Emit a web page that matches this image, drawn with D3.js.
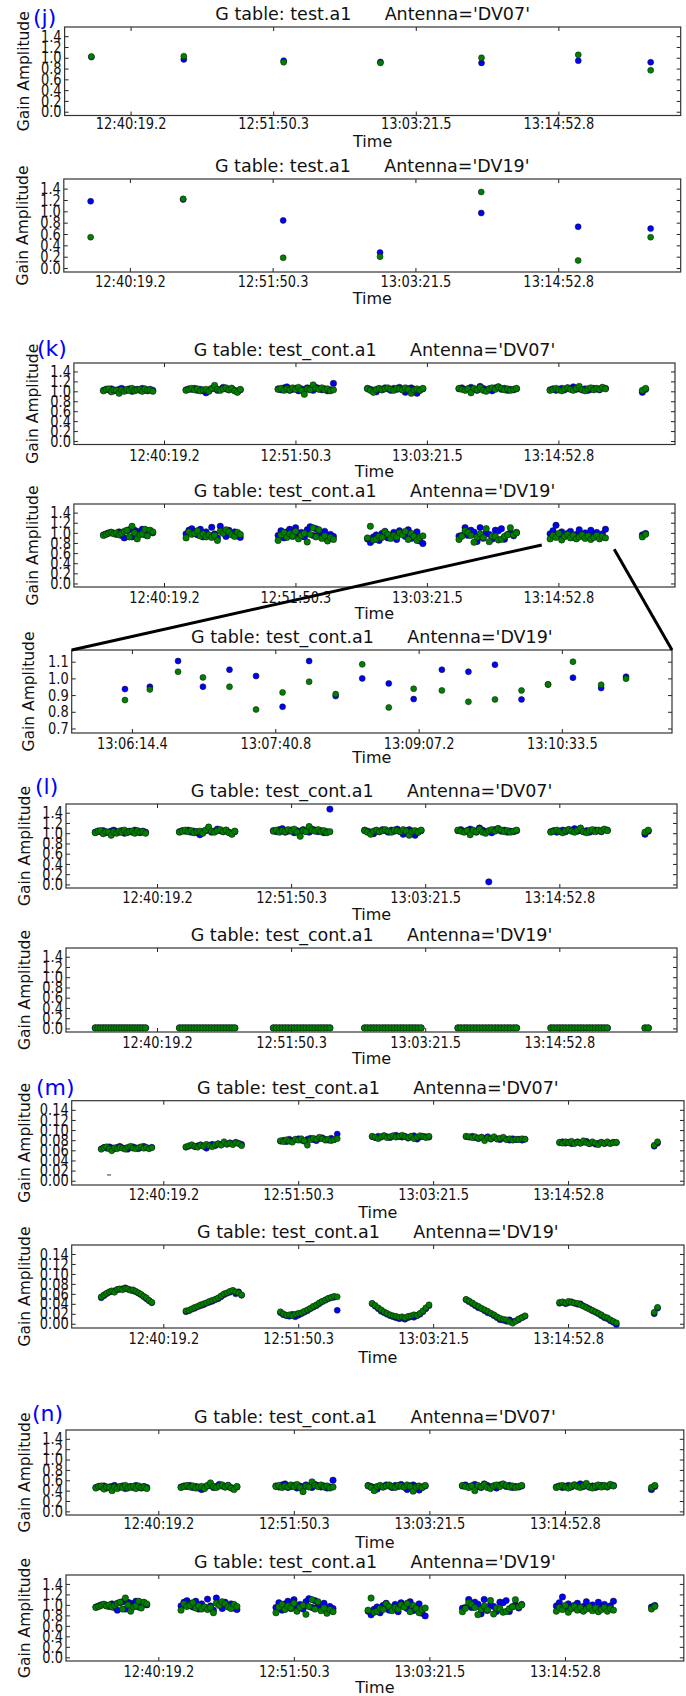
<!DOCTYPE html>
<html>
<head>
<meta charset="utf-8">
<script src="https://cdn.jsdelivr.net/npm/d3@7"></script>
<style>
  html, body { margin: 0; padding: 0; background: #fff; }
  text { font-family: "DejaVu Sans", sans-serif; }
</style>
</head>
<body>
<script>
// ---------------- DATA ----------------
// time axis (seconds relative to 12:40:19.2)
const tickTimes = [0, 691.1, 1382.3, 2073.6];
const tickLabels = ["12:40:19.2", "12:51:50.3", "13:03:21.5", "13:14:52.8"];
const zoomTickTimes = [1555.2, 1641.6, 1728.0, 1814.3];
const zoomTickLabels = ["13:06:14.4", "13:07:40.8", "13:09:07.2", "13:10:33.5"];
const ampTicks = [0.0, 0.2, 0.4, 0.6, 0.8, 1.0, 1.2, 1.4];
const ampTicksSmall = [0.00, 0.02, 0.04, 0.06, 0.08, 0.10, 0.12, 0.14];
const ampTicksZoom = [0.7, 0.8, 0.9, 1.0, 1.1];

// (j) one solution per scan
const jTimes = [-190, 258, 742, 1211, 1701, 2170, 2521];
const j1Blue = [1.012, 0.97, 0.946, 0.923, 0.905, 0.946, 0.917];
const j1Green = [1.024, 1.03, 0.917, 0.905, 1.0, 1.054, 0.768];
const j2Blue = [1.178, 1.208, 0.84, 0.272, 0.97, 0.728, 0.695];
const j2Green = [0.544, 1.22, 0.181, 0.2, 1.34, 0.133, 0.544];

// integration times for the per-integration solutions
const scanTimes = [
-318,-304,-291,-277,-264,-250,-236,-223,-209,-195,-182,-168,-155,-141,-127,-114,-100,-87,-73,-59,
116,131,146,161,176,191,206,221,236,251,266,281,296,311,326,341,356,371,386,401,
600,615,631,646,661,676,692,707,722,738,753,768,784,799,814,830,845,860,875,891,
1070,1085,1101,1116,1131,1146,1162,1177,1192,1208,1223,1238,1254,1269,1284,1300,1315,1330,1345,1361,
1551,1566,1583,1598,1614,1630,1646,1662,1678,1694,1710,1725,1742,1758,1774,1790,1806,1821,1838,1853,
2030,2045,2061,2076,2091,2106,2122,2137,2152,2168,2183,2198,2214,2229,2244,2260,2275,2290,2305,2321,
2515,2532];

// (k) DV07
const k1Blue = [
1.02,1.04,1.03,1.05,1.01,1.02,1.04,1.06,1.03,1.02,1.05,1.00,1.03,1.04,1.02,1.06,1.03,1.01,1.04,1.02,
1.03,1.05,1.04,1.06,1.02,1.04,1.01,0.97,1.03,1.05,1.07,1.02,1.04,1.08,1.05,1.03,1.06,1.02,0.99,1.03,
1.05,1.03,1.07,1.09,1.02,1.04,1.06,1.01,1.05,1.03,1.07,1.04,1.02,1.08,1.06,1.03,1.05,1.01,1.03,1.16,
1.06,1.04,1.02,0.99,1.05,1.03,1.07,1.05,1.02,1.06,1.04,1.08,1.03,0.98,1.05,1.07,1.04,0.96,1.02,1.05,
1.05,1.07,1.03,1.05,1.08,1.04,1.02,1.10,1.06,1.03,1.05,1.01,1.07,1.09,1.04,1.06,1.02,1.04,1.03,1.05,
1.03,1.05,1.02,1.04,1.06,1.03,1.07,1.05,1.09,1.04,1.06,1.03,1.05,1.02,1.04,1.06,1.05,1.03,1.07,1.06,
0.98,1.04];
const k1Green = [
1.01,1.04,1.05,0.99,1.03,1.02,0.96,1.03,1.00,1.04,1.02,1.06,1.01,1.03,1.04,1.00,1.05,1.02,1.03,1.00,
1.02,1.04,1.06,1.03,1.05,1.01,1.03,1.04,1.00,1.06,1.12,1.04,1.02,1.05,1.07,1.03,1.06,1.01,0.98,1.04,
1.04,1.06,1.02,1.05,1.03,1.07,1.04,1.08,1.02,0.94,1.05,1.03,1.13,1.06,1.04,1.07,1.03,1.05,1.01,1.03,
1.05,1.02,0.98,1.04,1.06,1.03,1.05,1.07,1.04,1.02,1.06,1.05,1.03,1.07,1.04,0.96,1.03,1.05,1.02,1.06,
1.06,1.04,1.02,1.05,0.97,1.06,1.03,1.08,1.02,1.00,1.05,1.07,1.04,1.09,1.06,1.03,1.05,1.02,1.04,1.06,
1.02,1.04,1.06,1.03,1.01,1.05,1.07,1.04,1.02,1.06,1.10,1.03,1.01,1.05,1.07,1.03,1.06,1.04,1.08,1.05,
1.02,1.06];

// (k) DV19
const k2Blue = [
0.96,0.98,1.00,1.01,0.99,0.97,1.02,0.95,0.90,1.04,1.06,0.92,1.05,1.03,0.99,1.07,0.96,1.04,1.02,1.00,
0.98,1.05,1.08,1.03,0.96,1.07,0.92,1.02,0.95,1.11,0.98,0.90,1.13,1.01,0.93,1.05,0.97,1.02,0.94,0.91,
0.95,1.04,0.90,1.02,1.07,0.93,1.10,0.97,1.01,0.92,1.06,1.12,0.95,1.08,0.99,0.91,1.03,0.86,0.97,0.93,
0.88,0.81,0.92,0.96,0.85,0.99,1.03,0.90,0.94,1.01,0.87,1.04,0.98,0.93,1.06,0.89,0.97,1.02,0.84,0.79,
0.936,0.95,1.104,0.95,1.052,1.014,0.83,1.104,0.894,1.0,0.97,0.876,1.052,1.04,1.082,0.874,0.964,1.004,0.942,1.01,
0.98,1.04,1.15,0.95,1.02,0.93,0.99,1.03,0.91,0.97,1.06,0.94,1.00,0.92,1.05,0.96,1.01,0.93,0.98,1.07,
0.96,0.99];
const k2Green = [
0.95,0.97,0.99,1.01,0.98,1.00,0.96,0.99,1.03,1.05,0.92,1.13,1.00,0.88,0.96,0.98,1.07,0.94,1.05,1.02,
0.90,1.02,0.97,0.99,1.04,0.94,0.98,0.92,0.96,0.91,0.95,0.85,1.03,0.99,1.06,1.02,0.96,0.93,1.01,0.97,
0.85,0.96,1.01,0.91,0.98,0.94,1.03,0.88,0.95,0.99,0.82,0.97,1.10,0.92,1.06,0.89,0.94,0.84,0.91,0.87,
0.90,1.13,0.86,0.88,0.93,0.91,1.02,0.97,0.89,0.95,0.92,1.00,0.96,1.03,0.87,0.99,0.93,0.85,0.91,0.94,
0.87,0.934,1.04,1.006,0.95,0.814,0.916,0.98,0.906,1.084,0.826,0.938,0.928,0.86,0.874,0.928,0.964,1.1,0.962,0.998,
0.88,0.95,0.91,0.99,0.86,0.93,0.97,0.90,0.95,0.88,0.92,0.96,0.89,0.94,0.87,0.91,0.95,0.88,0.93,0.90,
0.92,0.97];

// zoomed-in DV19 scan
const zoomTimes = [1551,1566,1583,1598,1614,1630,1646,1662,1678,1694,1710,1725,1742,1758,1774,1790,1806,1821,1838,1853];
const zoomBlue = [0.936,0.95,1.104,0.95,1.052,1.014,0.83,1.104,0.894,1.0,0.97,0.876,1.052,1.04,1.082,0.874,0.964,1.004,0.942,1.01];
const zoomGreen = [0.87,0.934,1.04,1.006,0.95,0.814,0.916,0.98,0.906,1.084,0.826,0.938,0.928,0.86,0.874,0.928,0.964,1.1,0.962,0.998];

// (l) DV07
const l1Blue = [
1.02,1.04,1.03,1.05,1.01,1.02,1.04,1.06,1.03,1.02,1.05,1.00,1.03,1.04,1.02,1.06,1.03,1.01,1.04,1.02,
1.03,1.05,1.04,1.06,1.02,1.04,1.01,0.97,1.03,1.05,1.07,1.02,1.04,1.08,1.05,1.03,1.06,1.02,0.99,1.03,
1.05,1.03,1.07,1.09,1.02,1.04,1.06,1.01,1.05,1.03,1.07,1.04,1.02,1.08,1.06,1.03,1.05,1.01,1.03,1.47,
1.06,1.04,1.02,0.99,1.05,1.03,1.07,1.05,1.02,1.06,1.04,1.08,1.03,0.98,1.05,1.07,1.04,0.96,1.02,1.05,
1.05,1.07,1.03,1.05,1.08,1.04,1.02,1.10,1.06,1.03,0.05,1.01,1.07,1.09,1.04,1.06,1.02,1.04,1.03,1.05,
1.03,1.05,1.02,1.04,1.06,1.03,1.07,1.05,1.09,1.04,1.06,1.03,1.05,1.02,1.04,1.06,1.05,1.03,1.07,1.06,
0.98,1.04];
const l1Green = [
1.01,1.04,1.05,0.99,1.03,1.02,0.96,1.03,1.00,1.04,1.02,1.06,1.01,1.03,1.04,1.00,1.05,1.02,1.03,1.00,
1.02,1.04,1.06,1.03,1.05,1.01,1.03,1.04,1.00,1.06,1.12,1.04,1.02,1.05,1.07,1.03,1.06,1.01,0.98,1.04,
1.04,1.06,1.02,1.05,1.03,1.07,1.04,1.08,1.02,0.94,1.05,1.03,1.13,1.06,1.04,1.07,1.03,1.05,1.01,1.03,
1.05,1.02,0.98,1.04,1.06,1.03,1.05,1.07,1.04,1.02,1.06,1.05,1.03,1.07,1.04,0.96,1.03,1.05,1.02,1.06,
1.06,1.04,1.02,1.05,0.97,1.06,1.03,1.08,1.02,1.00,1.05,1.07,1.04,1.09,1.06,1.03,1.05,1.02,1.04,1.06,
1.02,1.04,1.06,1.03,1.01,1.05,1.07,1.04,1.02,1.06,1.10,1.03,1.01,1.05,1.07,1.03,1.06,1.04,1.08,1.05,
1.02,1.06];

// (l) DV19 (all flagged / zero)
const l2Blue = [
0.01,0.01,0.01,0.01,0.01,0.01,0.01,0.01,0.01,0.01,0.01,0.01,0.01,0.01,0.01,0.01,0.01,0.01,0.01,0.01,
0.01,0.01,0.01,0.01,0.01,0.01,0.01,0.01,0.01,0.01,0.01,0.01,0.01,0.01,0.01,0.01,0.01,0.01,0.01,0.01,
0.01,0.01,0.01,0.01,0.01,0.01,0.01,0.01,0.01,0.01,0.01,0.01,0.01,0.01,0.01,0.01,0.01,0.01,0.01,0.01,
0.01,0.01,0.01,0.01,0.01,0.01,0.01,0.01,0.01,0.01,0.01,0.01,0.01,0.01,0.01,0.01,0.01,0.01,0.01,0.01,
0.01,0.01,0.01,0.01,0.01,0.01,0.01,0.01,0.01,0.01,0.01,0.01,0.01,0.01,0.01,0.01,0.01,0.01,0.01,0.01,
0.01,0.01,0.01,0.01,0.01,0.01,0.01,0.01,0.01,0.01,0.01,0.01,0.01,0.01,0.01,0.01,0.01,0.01,0.01,0.01,
0.01,0.01];
const l2Green = [
0.01,0.01,0.01,0.01,0.01,0.01,0.01,0.01,0.01,0.01,0.01,0.01,0.01,0.01,0.01,0.01,0.01,0.01,0.01,0.01,
0.01,0.01,0.01,0.01,0.01,0.01,0.01,0.01,0.01,0.01,0.01,0.01,0.01,0.01,0.01,0.01,0.01,0.01,0.01,0.01,
0.01,0.01,0.01,0.01,0.01,0.01,0.01,0.01,0.01,0.01,0.01,0.01,0.01,0.01,0.01,0.01,0.01,0.01,0.01,0.01,
0.01,0.01,0.01,0.01,0.01,0.01,0.01,0.01,0.01,0.01,0.01,0.01,0.01,0.01,0.01,0.01,0.01,0.01,0.01,0.01,
0.01,0.01,0.01,0.01,0.01,0.01,0.01,0.01,0.01,0.01,0.01,0.01,0.01,0.01,0.01,0.01,0.01,0.01,0.01,0.01,
0.01,0.01,0.01,0.01,0.01,0.01,0.01,0.01,0.01,0.01,0.01,0.01,0.01,0.01,0.01,0.01,0.01,0.01,0.01,0.01,
0.01,0.01];

// (m) DV07
const m1Blue = [
0.063,0.066,0.064,0.067,0.065,0.063,0.066,0.068,0.065,0.064,0.062,0.066,0.067,0.065,0.063,0.066,0.068,0.065,0.064,0.066,
0.066,0.068,0.070,0.067,0.069,0.071,0.068,0.064,0.070,0.072,0.069,0.073,0.071,0.074,0.072,0.075,0.073,0.076,0.074,0.072,
0.078,0.080,0.077,0.082,0.079,0.081,0.083,0.080,0.078,0.082,0.084,0.081,0.079,0.083,0.085,0.082,0.080,0.084,0.081,0.092,
0.087,0.085,0.088,0.086,0.089,0.087,0.085,0.088,0.090,0.087,0.086,0.088,0.084,0.087,0.089,0.082,0.086,0.088,0.087,0.086,
0.087,0.086,0.088,0.085,0.083,0.086,0.084,0.087,0.082,0.085,0.083,0.081,0.084,0.082,0.080,0.083,0.081,0.082,0.080,0.082,
0.075,0.077,0.074,0.076,0.073,0.075,0.077,0.074,0.076,0.078,0.073,0.075,0.072,0.074,0.076,0.073,0.075,0.074,0.076,0.075,
0.068,0.074];
const m1Green = [
0.062,0.065,0.067,0.063,0.059,0.065,0.063,0.066,0.064,0.062,0.066,0.068,0.064,0.063,0.065,0.067,0.064,0.066,0.063,0.065,
0.067,0.069,0.071,0.068,0.066,0.070,0.068,0.072,0.069,0.067,0.071,0.073,0.070,0.077,0.072,0.074,0.071,0.075,0.073,0.069,
0.079,0.077,0.081,0.078,0.076,0.082,0.080,0.083,0.079,0.070,0.081,0.084,0.082,0.086,0.083,0.080,0.082,0.079,0.081,0.083,
0.088,0.086,0.083,0.087,0.089,0.085,0.087,0.089,0.086,0.088,0.090,0.087,0.085,0.088,0.083,0.086,0.089,0.087,0.085,0.088,
0.088,0.087,0.085,0.087,0.084,0.086,0.079,0.085,0.083,0.087,0.082,0.084,0.086,0.081,0.083,0.080,0.082,0.081,0.083,0.082,
0.076,0.074,0.077,0.075,0.078,0.073,0.076,0.074,0.079,0.075,0.073,0.077,0.074,0.071,0.076,0.074,0.077,0.073,0.075,0.076,
0.070,0.077];
// stray dash-like mark in (m) DV07 (time, amplitude)
const m1Stray = [[-278, 0.0113]];

// (m) DV19
const m2Blue = [
0.052,0.056,0.060,0.063,0.065,0.066,0.068,0.069,0.070,0.072,0.069,0.068,0.066,0.064,0.061,0.058,0.054,0.050,0.046,0.042,
0.024,0.026,0.029,0.031,0.034,0.036,0.038,0.041,0.043,0.045,0.048,0.050,0.054,0.058,0.061,0.063,0.066,0.060,0.064,0.057,
0.022,0.018,0.016,0.015,0.019,0.014,0.017,0.020,0.023,0.026,0.030,0.033,0.036,0.040,0.044,0.047,0.050,0.052,0.053,0.027,
0.040,0.035,0.030,0.025,0.022,0.019,0.016,0.014,0.012,0.010,0.011,0.009,0.012,0.014,0.013,0.016,0.019,0.024,0.030,0.036,
0.048,0.044,0.040,0.036,0.032,0.030,0.026,0.022,0.020,0.016,0.012,0.008,0.007,0.005,0.008,0.004,0.006,0.008,0.012,0.015,
0.041,0.043,0.040,0.042,0.044,0.041,0.039,0.040,0.036,0.033,0.030,0.026,0.023,0.020,0.016,0.012,0.010,0.006,0.003,-0.002,
0.020,0.031];
const m2Green = [
0.054,0.058,0.061,0.064,0.066,0.063,0.069,0.070,0.068,0.071,0.070,0.067,0.068,0.065,0.062,0.059,0.055,0.052,0.047,0.043,
0.026,0.027,0.030,0.033,0.035,0.038,0.040,0.042,0.045,0.047,0.049,0.052,0.056,0.060,0.062,0.065,0.067,0.064,0.062,0.058,
0.024,0.020,0.017,0.018,0.016,0.019,0.021,0.022,0.025,0.028,0.031,0.035,0.038,0.042,0.045,0.048,0.051,0.053,0.055,0.054,
0.041,0.037,0.032,0.028,0.024,0.021,0.018,0.016,0.015,0.013,0.014,0.012,0.015,0.016,0.018,0.017,0.021,0.026,0.032,0.038,
0.049,0.046,0.042,0.038,0.035,0.031,0.028,0.025,0.021,0.018,0.014,0.011,0.009,0.008,0.004,0.001,0.005,0.010,0.013,0.016,
0.043,0.044,0.042,0.045,0.043,0.042,0.041,0.038,0.035,0.032,0.029,0.027,0.024,0.021,0.018,0.014,0.012,0.008,0.005,0.002,
0.023,0.033];

// (n) DV07
const n1Blue = [
0.46,0.48,0.47,0.49,0.45,0.47,0.48,0.50,0.46,0.47,0.49,0.44,0.47,0.48,0.46,0.50,0.47,0.45,0.48,0.46,
0.47,0.49,0.48,0.50,0.46,0.48,0.45,0.42,0.47,0.49,0.51,0.46,0.48,0.52,0.49,0.47,0.50,0.46,0.44,0.47,
0.49,0.47,0.51,0.53,0.46,0.48,0.50,0.45,0.49,0.47,0.51,0.48,0.46,0.52,0.50,0.47,0.49,0.45,0.47,0.60,
0.50,0.48,0.46,0.43,0.49,0.47,0.51,0.49,0.46,0.50,0.48,0.52,0.47,0.42,0.49,0.51,0.48,0.41,0.46,0.49,
0.49,0.51,0.47,0.49,0.52,0.48,0.46,0.53,0.50,0.47,0.49,0.45,0.51,0.52,0.48,0.50,0.46,0.48,0.47,0.49,
0.47,0.49,0.46,0.48,0.50,0.47,0.51,0.49,0.53,0.48,0.50,0.47,0.49,0.46,0.48,0.50,0.49,0.47,0.51,0.50,
0.42,0.48];
const n1Green = [
0.45,0.48,0.49,0.43,0.47,0.46,0.40,0.47,0.44,0.48,0.46,0.50,0.45,0.47,0.48,0.44,0.49,0.46,0.47,0.44,
0.46,0.48,0.50,0.47,0.49,0.45,0.47,0.48,0.44,0.50,0.55,0.48,0.46,0.49,0.51,0.47,0.50,0.45,0.42,0.48,
0.48,0.50,0.46,0.49,0.47,0.51,0.48,0.52,0.46,0.38,0.49,0.47,0.57,0.50,0.48,0.51,0.47,0.49,0.45,0.47,
0.49,0.46,0.40,0.48,0.50,0.47,0.49,0.51,0.48,0.46,0.50,0.49,0.47,0.51,0.48,0.39,0.47,0.49,0.46,0.50,
0.50,0.48,0.46,0.49,0.40,0.50,0.47,0.52,0.46,0.44,0.49,0.51,0.48,0.53,0.50,0.47,0.49,0.46,0.48,0.50,
0.46,0.48,0.50,0.47,0.45,0.49,0.51,0.48,0.46,0.50,0.54,0.47,0.45,0.49,0.51,0.47,0.50,0.48,0.52,0.49,
0.46,0.50];

// (n) DV19
const n2Blue = [
0.96,0.98,1.00,1.01,0.99,0.97,1.02,0.95,0.90,1.04,1.06,0.92,1.05,1.03,0.99,1.07,0.96,1.04,1.02,1.00,
0.98,1.05,1.08,1.03,0.96,1.07,0.92,1.02,0.95,1.11,0.98,0.90,1.13,1.01,0.93,1.05,0.97,1.02,0.94,0.91,
0.95,1.04,0.90,1.02,1.07,0.93,1.10,0.97,1.01,0.92,1.06,1.12,0.95,1.08,0.99,0.91,1.03,0.86,0.97,0.93,
0.88,0.81,0.92,0.96,0.85,0.99,1.03,0.90,0.94,1.01,0.87,1.04,0.98,0.93,1.06,0.89,0.97,1.02,0.84,0.79,
0.936,0.95,1.104,0.95,1.052,1.014,0.83,1.104,0.894,1.0,0.97,0.876,1.052,1.04,1.082,0.874,0.964,1.004,0.942,1.01,
0.98,1.04,1.15,0.95,1.02,0.93,0.99,1.03,0.91,0.97,1.06,0.94,1.00,0.92,1.05,0.96,1.01,0.93,0.98,1.07,
0.96,0.99];
const n2Green = [
0.95,0.97,0.99,1.01,0.98,1.00,0.96,0.99,1.03,1.05,0.92,1.13,1.00,0.88,0.96,0.98,1.07,0.94,1.05,1.02,
0.90,1.02,0.97,0.99,1.04,0.94,0.98,0.92,0.96,0.91,0.95,0.85,1.03,0.99,1.06,1.02,0.96,0.93,1.01,0.97,
0.85,0.96,1.01,0.91,0.98,0.94,1.03,0.88,0.95,0.99,0.82,0.97,1.10,0.92,1.06,0.89,0.94,0.84,0.91,0.87,
0.90,1.13,0.86,0.88,0.93,0.91,1.02,0.97,0.89,0.95,0.92,1.00,0.96,1.03,0.87,0.99,0.93,0.85,0.91,0.94,
0.87,0.934,1.04,1.006,0.95,0.814,0.916,0.98,0.906,1.084,0.826,0.938,0.928,0.86,0.874,0.928,0.964,1.1,0.962,0.998,
0.88,0.95,0.91,0.99,0.86,0.93,0.97,0.90,0.95,0.88,0.92,0.96,0.89,0.94,0.87,0.91,0.95,0.88,0.93,0.90,
0.92,0.97];

// connector anchor points in the (k) DV19 panel (time, amplitude)
const connectFrom = [[1986, 0.76], [2367, 0.675]];

const titleA = "G table: test.a1      Antenna=";
const titleB = "G table: test_cont.a1      Antenna=";

// ---------------- LAYOUT ----------------
const W = 686, H = 1696;
const STRETCH = 1.2; // tick labels are taller than wide in the reference
const svg = d3.select("body").append("svg").attr("width", W).attr("height", H);
svg.append("rect").attr("width", W).attr("height", H).attr("fill", "#fff");

const fmt1 = d3.format(".1f"), fmt2 = d3.format(".2f");
const mainDom = [-0.07, 1.57];
const smallDom = [-0.0085, 0.158];

const panels = [
  {id:"j1", box:[64.6,27,680.7,115.5], xdom:[-319.9,2666.5], ydom:mainDom, yt:ampTicks, yf:fmt1, title:titleA+"'DV07'", tl:124, tm:141, t:jTimes, b:j1Blue, g:j1Green, r:3, lab:"(j)", lx:33, ly:25, yoff:42},
  {id:"j2", box:[63.8,179,680.7,272], xdom:[-319.9,2666.5], ydom:mainDom, yt:ampTicks, yf:fmt1, title:titleA+"'DV19'", tl:282, tm:298, t:jTimes, b:j2Blue, g:j2Green, r:3, yoff:42},
  {id:"k1", box:[73.9,363,675,444.5], xdom:[-473.7,2686.6], ydom:mainDom, yt:ampTicks, yf:fmt1, title:titleB+"'DV07'", tl:456, tm:471, t:scanTimes, b:k1Blue, g:k1Green, r:3.2, lab:"(k)", lx:37, ly:356, yoff:42},
  {id:"k2", box:[73.9,504,675,587], xdom:[-473.7,2686.6], ydom:mainDom, yt:ampTicks, yf:fmt1, title:titleB+"'DV19'", tl:598, tm:613, t:scanTimes, b:k2Blue, g:k2Green, r:3.2, yoff:42},
  {id:"zp", box:[71.7,650,672,733], xdom:[1518.9,1880.7], ydom:[0.673,1.17], yt:ampTicksZoom, yf:fmt1, title:titleB+"'DV19'", tl:744, tm:757, t:zoomTimes, b:zoomBlue, g:zoomGreen, r:3, yoff:44, xt:zoomTickTimes, xl:zoomTickLabels},
  {id:"l1", box:[66,804,677,888], xdom:[-469,2680], ydom:mainDom, yt:ampTicks, yf:fmt1, title:titleB+"'DV07'", tl:898, tm:914, t:scanTimes, b:l1Blue, g:l1Green, r:3.2, lab:"(l)", lx:35, ly:794, yoff:42},
  {id:"l2", box:[66,948,677,1032], xdom:[-469,2680], ydom:mainDom, yt:ampTicks, yf:fmt1, title:titleB+"'DV19'", tl:1043, tm:1058, t:scanTimes, b:l2Blue, g:l2Green, r:3.2, yoff:42},
  {id:"m1", box:[71.7,1100.7,684,1185], xdom:[-469.3,2667.5], ydom:smallDom, yt:ampTicksSmall, yf:fmt2, title:titleB+"'DV07'", tl:1195, tm:1212, t:scanTimes, b:m1Blue, g:m1Green, r:3, lab:"(m)", lx:36, ly:1095, yoff:48, stray:m1Stray},
  {id:"m2", box:[71.7,1245,684,1328], xdom:[-469.3,2667.5], ydom:smallDom, yt:ampTicksSmall, yf:fmt2, title:titleB+"'DV19'", tl:1339, tm:1357, t:scanTimes, b:m2Blue, g:m2Green, r:3, yoff:48},
  {id:"n1", box:[66,1430,683.8,1515], xdom:[-470.7,2679.8], ydom:mainDom, yt:ampTicks, yf:fmt1, title:titleB+"'DV07'", tl:1524, tm:1542, t:scanTimes, b:n1Blue, g:n1Green, r:3.2, lab:"(n)", lx:32, ly:1421, yoff:42},
  {id:"n2", box:[66,1575,683.8,1661], xdom:[-470.7,2679.8], ydom:mainDom, yt:ampTicks, yf:fmt1, title:titleB+"'DV19'", tl:1672, tm:1687, t:scanTimes, b:n2Blue, g:n2Green, r:3.2, yoff:42}
];

const scales = {};
const defs = svg.append("defs");

panels.forEach(p => {
  const [x0, y0, x1, y1] = p.box;
  const x = d3.scaleLinear().domain(p.xdom).range([x0, x1]);
  const y = d3.scaleLinear().domain(p.ydom).range([y1, y0]);
  scales[p.id] = {x, y};
  const g = svg.append("g");

  defs.append("clipPath").attr("id", "clip-" + p.id)
    .append("rect").attr("x", x0).attr("y", y0).attr("width", x1 - x0).attr("height", y1 - y0);

  const pts = g.append("g").attr("clip-path", `url(#clip-${p.id})`);
  [[p.b, "#0000ff"], [p.g, "#008000"]].forEach(([vals, col]) => {
    pts.append("g").selectAll("circle")
      .data(vals.map((v, i) => [p.t[i], v]))
      .join("circle")
      .attr("cx", d => x(d[0])).attr("cy", d => y(d[1]))
      .attr("r", p.r).attr("fill", col)
      .attr("stroke", "#111").attr("stroke-width", 0.5);
  });
  if (p.stray) {
    pts.append("g").selectAll("line").data(p.stray).join("line")
      .attr("x1", d => x(d[0]) - 2).attr("x2", d => x(d[0]) + 2)
      .attr("y1", d => y(d[1])).attr("y2", d => y(d[1]))
      .attr("stroke", "#333").attr("stroke-width", 1);
  }

  const xt = p.xt || tickTimes, xl = p.xl || tickLabels;
  const xfmt = (d, i) => xl[i];

  const axB = g.append("g").attr("transform", `translate(0,${y1})`)
    .call(d3.axisBottom(x).tickValues(xt).tickFormat(xfmt).tickSize(-4).tickPadding(0));
  const axT = g.append("g").attr("transform", `translate(0,${y0})`)
    .call(d3.axisTop(x).tickValues(xt).tickFormat("").tickSize(-4));
  const axL = g.append("g").attr("transform", `translate(${x0},0)`)
    .call(d3.axisLeft(y).tickValues(p.yt).tickFormat(p.yf).tickSize(-4).tickPadding(3));
  const axR = g.append("g").attr("transform", `translate(${x1},0)`)
    .call(d3.axisRight(y).tickValues(p.yt).tickFormat("").tickSize(-4));
  [axB, axT, axL, axR].forEach(a => {
    a.select(".domain").remove();
    a.selectAll("line").attr("stroke", "#222");
    a.selectAll("text").attr("font-size", 13).attr("fill", "#111")
      .attr("font-family", "DejaVu Sans, sans-serif");
  });
  // bottom labels: centre at p.tl, vertically stretched
  axB.selectAll(".tick text")
    .attr("y", 0).attr("dy", "0.35em")
    .attr("transform", `translate(0,${p.tl - y1}) scale(1,${STRETCH})`);
  axL.selectAll(".tick text")
    .attr("transform", `scale(1,${STRETCH})`).attr("dy", "0.33em");

  g.append("rect").attr("x", x0).attr("y", y0).attr("width", x1 - x0).attr("height", y1 - y0)
    .attr("fill", "none").attr("stroke", "#333").attr("stroke-width", 1.2);

  // title
  g.append("text").attr("x", (x0 + x1) / 2).attr("y", p.box[1] - 7)
    .attr("text-anchor", "middle").attr("font-size", 17.5).attr("fill", "#111")
    .style("white-space", "pre").text(p.title);
  // x label
  g.append("text").attr("x", (x0 + x1) / 2).attr("y", p.tm + 6)
    .attr("text-anchor", "middle").attr("font-size", 16).attr("fill", "#111").text("Time");
  // y label
  g.append("text").attr("transform", `translate(${x0 - p.yoff + 6},${(y0 + y1) / 2}) rotate(-90)`)
    .attr("text-anchor", "middle").attr("font-size", 15.5).attr("fill", "#111").text("Gain Amplitude");
  // panel letter
  if (p.lab) {
    g.append("text").attr("x", p.lx).attr("y", p.ly).attr("font-size", 22)
      .attr("fill", "#0000ff").text(p.lab);
  }
});

// connector lines from (k) DV19 panel to the zoomed panel
const sk = scales.k2, zb = panels.find(p => p.id === "zp").box;
const targets = [[zb[0], zb[1]], [zb[2], zb[1]]];
connectFrom.forEach((c, i) => {
  svg.append("line")
    .attr("x1", sk.x(c[0])).attr("y1", sk.y(c[1]))
    .attr("x2", targets[i][0]).attr("y2", targets[i][1])
    .attr("stroke", "#000").attr("stroke-width", 3);
});
</script>
</body>
</html>
